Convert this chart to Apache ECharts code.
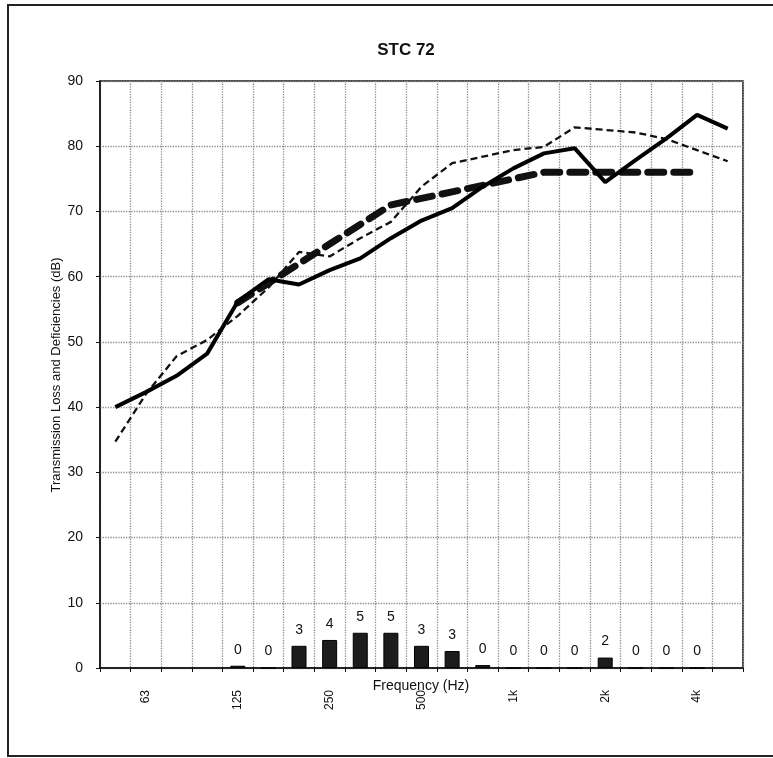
<!DOCTYPE html>
<html>
<head>
<meta charset="utf-8">
<script src="https://cdn.jsdelivr.net/npm/echarts@6/dist/echarts.min.js"></script>
<style>html,body{margin:0;padding:0;background:#fff}#c{width:773px;height:758px}</style>
</head>
<body>
<div id="c"></div>
<script>
const bands = ['50','63','80','100','125','160','200','250','315','400','500','630','800','1000','1250','1600','2000','2500','3150','4000','5000'];
const tickLabels = {'63':'63','125':'125','250':'250','500':'500','1000':'1k','2000':'2k','4000':'4k'};
const measuredTL = [40.0, 42.3, 44.8, 48.2, 56.2, 59.6, 58.8, 61.0, 62.8, 65.9, 68.6, 70.5, 73.8, 76.6, 78.9, 79.7, 74.5, 77.9, 81.2, 84.8, 82.7];
const comparisonTL = [34.7, 42.0, 47.8, 50.3, 54.0, 58.3, 63.8, 63.1, 65.9, 68.4, 73.8, 77.4, 78.4, 79.4, 79.9, 82.9, 82.5, 82.1, 81.1, 79.4, 77.7];
const stcContour = [null, null, null, null, 56, 59, 62, 65, 68, 71, 72, 73, 74, 75, 76, 76, 76, 76, 76, 76, null];
const deficiencies = [null, null, null, null, 0.35, 0, 3.4, 4.3, 5.4, 5.4, 3.4, 2.6, 0.45, 0, 0, 0, 1.6, 0, 0, 0, null];
const yTicks = [0, 10, 20, 30, 40, 50, 60, 70, 80, 90];

const FONT = 'Liberation Sans, Arial, sans-serif';
const chart = echarts.init(document.getElementById('c'));
chart.setOption({
  backgroundColor: '#fff',
  animation: false,
  title: {
    text: 'STC 72', left: 401, top: 37, textAlign: 'center',
    textStyle: {fontFamily: FONT, fontSize: 17, fontWeight: 'bold', color: '#111'}
  },
  graphic: [{
    type: 'rect', shape: {x: 8, y: 5, width: 800, height: 751},
    style: {fill: 'none', stroke: '#222', lineWidth: 2}, silent: true, z: -1
  }, {
    type: 'text', x: 421, y: 686, z: 100,
    style: {text: 'Frequency (Hz)', fontFamily: FONT, fontSize: 14, fill: '#111', align: 'center', verticalAlign: 'middle'}
  }, {
    type: 'text', x: 56, y: 375, rotation: Math.PI / 2, z: 100,
    style: {text: 'Transmission Loss and Deficiencies (dB)', fontFamily: FONT, fontSize: 13, fill: '#111', align: 'center', verticalAlign: 'middle'}
  }],
  grid: {left: 100, right: 30, top: 81, bottom: 90, show: true, borderColor: '#111', borderWidth: 1.5, backgroundColor: 'transparent'},
  xAxis: {
    type: 'category', data: bands, boundaryGap: true,
    axisLine: {lineStyle: {color: '#111', width: 1.5}},
    axisTick: {show: true, length: 4, interval: 0, lineStyle: {color: '#111'}},
    axisLabel: {
      interval: 0, rotate: 90, margin: 22, fontFamily: FONT, fontSize: 12, color: '#111',
      formatter: v => tickLabels[v] || ''
    },
    splitLine: {show: true, interval: 0, lineStyle: {color: '#8c8c8c', type: 'dotted', width: 1.3}}
  },
  yAxis: {
    type: 'value', min: 0, max: 90, interval: 10,
    axisLine: {show: true, lineStyle: {color: '#111', width: 1.5}},
    axisTick: {show: true, length: 4, lineStyle: {color: '#111'}},
    axisLabel: {fontFamily: FONT, fontSize: 14, color: '#111', margin: 17,
      formatter: v => yTicks.includes(v) ? String(v) : ''},
    splitLine: {show: true, lineStyle: {color: '#8c8c8c', type: 'dotted', width: 1.3}}
  },
  series: [
    {
      type: 'bar', data: deficiencies, barWidth: 15,
      itemStyle: {color: '#1c1c1c', borderColor: '#000', borderWidth: 1},
      label: {show: true, position: 'top', distance: 9, fontFamily: FONT, fontSize: 14, color: '#111',
        formatter: p => p.value == null ? '' : String(Math.round(p.value))},
      z: 2
    },
    {
      type: 'line', data: stcContour, symbol: 'none', connectNulls: false,
      lineStyle: {color: '#111', width: 7, type: [16, 10], cap: 'round'}, z: 3
    },
    {
      type: 'line', data: comparisonTL, symbol: 'none',
      lineStyle: {color: '#111', width: 2.3, type: [7, 4]}, z: 4
    },
    {
      type: 'line', data: measuredTL, symbol: 'none',
      lineStyle: {color: '#000', width: 4, type: 'solid'}, z: 5
    }
  ]
});
</script>
</body>
</html>
